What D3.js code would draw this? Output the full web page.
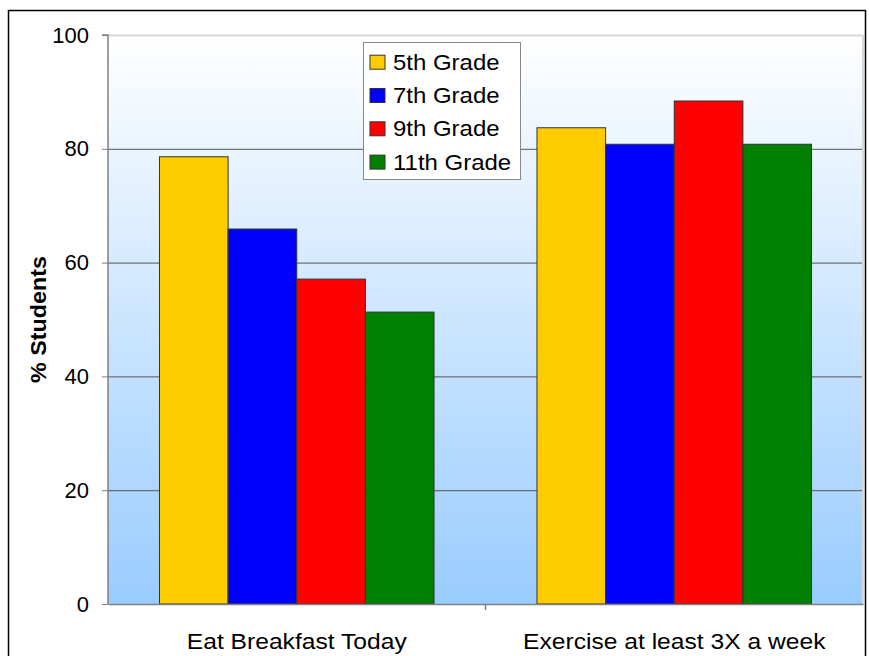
<!DOCTYPE html>
<html><head><meta charset="utf-8">
<script src="https://cdn.jsdelivr.net/npm/d3@7"></script>
<style>body{margin:0;background:#fff}svg{display:block;font-family:Arial,"Liberation Sans",sans-serif}</style>
</head><body>
<svg id="c" width="869" height="656"></svg>
<script>
const categories = ["Eat Breakfast Today", "Exercise at least 3X a week"];
const seriesNames = ["5th Grade", "7th Grade", "9th Grade", "11th Grade"];
const seriesColors = ["#FFCC00", "#0000FF", "#FF0000", "#008000"];
const values = [
  [78.6, 83.7],
  [65.9, 80.8],
  [57.1, 88.4],
  [51.3, 80.8]
];
const yTicks = [0, 20, 40, 60, 80, 100];

(function () {
const svg = d3.select("#c");
const pl = 108, pr = 863, pt = 35, pb = 604;
const FF = "Arial, 'Liberation Sans', sans-serif";

svg.append("rect").attr("x", 8.5).attr("y", 10.5).attr("width", 857).attr("height", 660)
  .attr("fill", "none").attr("stroke", "#000").attr("stroke-width", 1.5);

const defs = svg.append("defs");
const g = defs.append("linearGradient").attr("id", "bg").attr("x1", 0).attr("y1", 0).attr("x2", 0).attr("y2", 1);
g.append("stop").attr("offset", 0).attr("stop-color", "#FFFFFF");
g.append("stop").attr("offset", 1).attr("stop-color", "#99CCFF");

const y = d3.scaleLinear().domain([0, 100]).range([pb, pt]);
const x0 = d3.scaleBand().domain(categories).range([pl, pr]).paddingInner(0).paddingOuter(0);
const x1 = d3.scaleBand().domain(seriesNames).range([0, x0.bandwidth()]).paddingInner(0).paddingOuter(0.75);

svg.append("rect").attr("x", pl).attr("y", pt).attr("width", pr - pl).attr("height", pb - pt).attr("fill", "url(#bg)");

// gridlines
svg.append("g").selectAll("line").data(yTicks.filter(d => d > 0)).join("line")
  .attr("x1", pl).attr("x2", pr).attr("y1", d => y(d) + 0.5).attr("y2", d => y(d) + 0.5)
  .attr("stroke", d => d === 100 ? "#d8d8d8" : "#555").attr("stroke-width", d => d === 100 ? 2 : 1);
svg.append("line").attr("x1", pr).attr("x2", pr).attr("y1", pt).attr("y2", pb).attr("stroke", "#d8d8d8").attr("stroke-width", 2);

// bars
const groups = svg.append("g").selectAll("g").data(categories).join("g")
  .attr("transform", d => `translate(${x0(d)},0)`);
groups.selectAll("rect").data((c, ci) => seriesNames.map((s, si) => ({s, si, v: values[si][ci]}))).join("rect")
  .attr("x", d => x1(d.s)).attr("width", x1.bandwidth())
  .attr("y", d => y(d.v)).attr("height", d => y(0) - y(d.v))
  .attr("fill", d => seriesColors[d.si]).attr("stroke", "#333").attr("stroke-width", 1);

// axes
const ya = svg.append("g").attr("transform", `translate(${pl},0)`)
  .call(d3.axisLeft(y).tickValues(yTicks).tickSize(6).tickPadding(13));
ya.select(".domain").attr("stroke", "#808080").attr("stroke-width", 1.5).attr("d", `M-6,${pt}H0V${pb}`);
ya.selectAll(".tick line").attr("stroke", "#808080");
ya.selectAll("text").attr("font-size", 22).attr("fill", "#000").attr("font-family", FF);

const xa = svg.append("g").attr("transform", `translate(0,${pb})`)
  .call(d3.axisBottom(x0).tickSize(0).tickPadding(29));
xa.select(".domain").attr("stroke", "#808080").attr("stroke-width", 1.5);
xa.selectAll("text").attr("font-size", 22).attr("transform", "scale(1.12,1)").attr("fill", "#000").attr("font-family", FF);
svg.append("g").selectAll("line").data([pl + x0.bandwidth()]).join("line")
  .attr("x1", d => d).attr("x2", d => d).attr("y1", pb).attr("y2", pb + 6).attr("stroke", "#808080").attr("stroke-width", 1.5);

// y label
svg.append("text").attr("transform", `translate(46,${(pt + pb) / 2}) rotate(-90) scale(1.06,1)`)
  .attr("text-anchor", "middle").attr("font-size", 22).attr("font-weight", "bold").text("% Students");

// legend
const lg = svg.append("g").attr("transform", "translate(363,42)");
lg.append("rect").attr("x", 0.5).attr("y", 0.5).attr("width", 157).attr("height", 137).attr("fill", "#fff").attr("stroke", "#888");
const li = lg.selectAll("g").data(seriesNames).join("g").attr("transform", (d, i) => `translate(0,${27.7 + i * 33.3})`);
li.append("rect").attr("x", 7).attr("y", -14.5).attr("width", 15).attr("height", 14)
  .attr("fill", (d, i) => seriesColors[i]).attr("stroke", "#333");
li.append("text").attr("transform", "translate(30,0) scale(1.09,1)").attr("font-size", 22).text(d => d);
})();
</script>
</body></html>
